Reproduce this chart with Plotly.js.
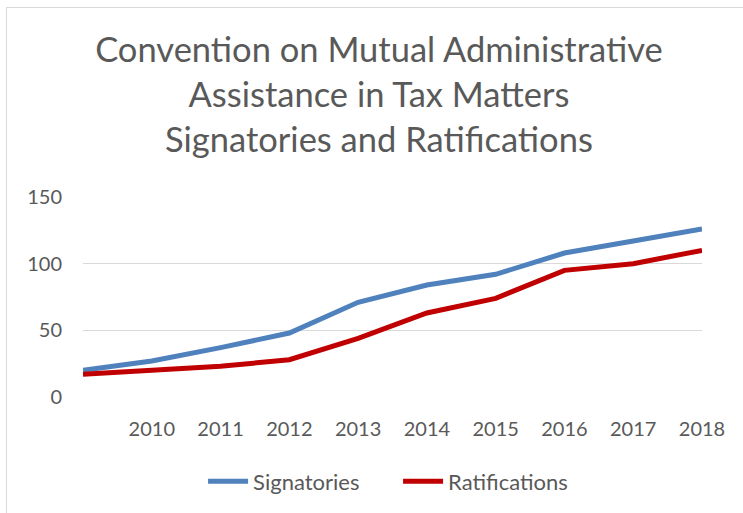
<!DOCTYPE html>
<html>
<head>
<meta charset="utf-8">
<script src="https://cdn.plot.ly/plotly-3.0.1.min.js"></script>
<style>
  html, body { margin: 0; padding: 0; background: #fff; }
  #chart { width: 743px; height: 513px; }
  #frame { position: absolute; left: 6px; top: 7px; right: 0; bottom: 0;
           border-top: 1px solid #d9d9d9; border-left: 1px solid #d9d9d9; pointer-events: none; }
</style>
</head>
<body>
<div id="chart"></div>
<div id="frame"></div>
<script>
const years = [2009, 2010, 2011, 2012, 2013, 2014, 2015, 2016, 2017, 2018];
const tickYears = [2010, 2011, 2012, 2013, 2014, 2015, 2016, 2017, 2018];
const tickLabels = ['2010', '2011', '2012', '2013', '2014', '2015', '2016', '2017', '2018'];
const signatories = [20, 27, 37, 48, 71, 84, 92, 108, 117, 126];
const ratifications = [17, 20, 23, 28, 44, 63, 74, 95, 100, 110];

const fontFam = 'Lato, sans-serif';
const grey = '#595959';

const traces = [
  { x: years, y: signatories, name: 'Signatories', type: 'scatter', mode: 'lines',
    line: { color: '#4f81bd', width: 5 } },
  { x: years, y: ratifications, name: 'Ratifications', type: 'scatter', mode: 'lines',
    line: { color: '#c00000', width: 5 } }
];

const layout = {
  width: 743, height: 513,
  margin: { l: 83, r: 41, t: 197, b: 115 },
  paper_bgcolor: '#fff', plot_bgcolor: '#fff',
  font: { family: fontFam, color: grey, size: 20 },
  title: {
    text: 'Convention on Mutual Administrative<br>Assistance in Tax Matters<br>Signatories and Ratifications',
    font: { family: fontFam, size: 34.5, color: grey },
    x: 0.51, xanchor: 'center', y: 0.879, yanchor: 'middle'
  },
  xaxis: {
    range: [2009, 2018], tickvals: tickYears, ticktext: tickLabels,
    showgrid: false, zeroline: false, showline: false, ticks: '',
    tickfont: { family: fontFam, size: 20, color: grey }, ticklabelstandoff: 18
  },
  yaxis: {
    range: [0, 150], tickvals: [0, 50, 100, 150], showgrid: true,
    gridcolor: '#d9d9d9', gridwidth: 1.5, zeroline: false, showline: false, ticks: '',
    tickfont: { family: fontFam, size: 20, color: grey }, ticklabelstandoff: 20
  },
  showlegend: true,
  legend: {
    orientation: 'h', x: 0.509, xanchor: 'center', y: -0.415, yanchor: 'middle',
    font: { family: fontFam, size: 22, color: grey }, itemwidth: 40, tracegroupgap: 0,
    entrywidth: 140, entrywidthmode: 'pixels'
  }
};

Plotly.newPlot('chart', traces, layout, { displayModeBar: false, staticPlot: true });
</script>
</body>
</html>
